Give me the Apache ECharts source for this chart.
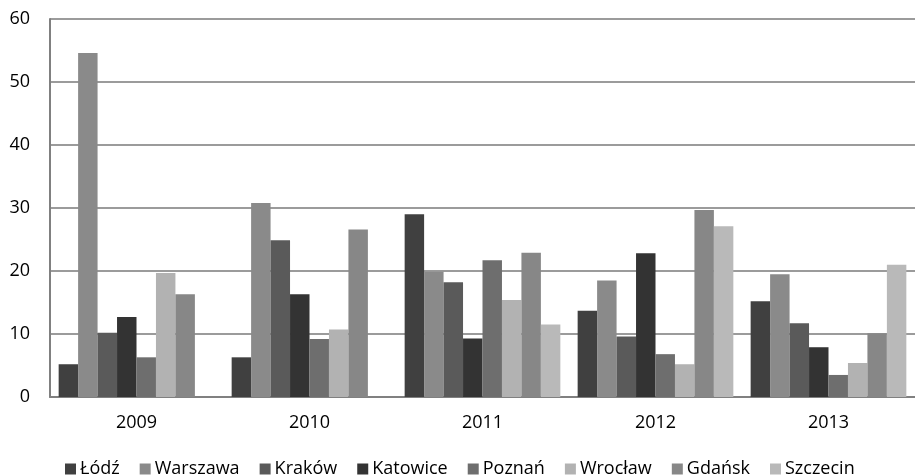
<!DOCTYPE html>
<html>
<head>
<meta charset="utf-8">
<script src="https://cdn.jsdelivr.net/npm/echarts@6/dist/echarts.min.js"></script>
<style>html,body{margin:0;padding:0;background:#fff}#c{width:915px;height:475px}</style>
</head>
<body>
<div id="c"></div>
<script>
const years = ['2009','2010','2011','2012','2013'];
const seriesNames = ['Łódź','Warszawa','Kraków','Katowice','Poznań','Wrocław','Gdańsk','Szczecin'];
const lodz     = [5.2, 6.3, 29.0, 13.7, 15.2];
const warszawa = [54.6, 30.8, 19.9, 18.5, 19.5];
const krakow   = [10.2, 24.9, 18.2, 9.6, 11.7];
const katowice = [12.7, 16.3, 9.3, 22.8, 7.9];
const poznan   = [6.3, 9.2, 21.7, 6.8, 3.5];
const wroclaw  = [19.7, 10.7, 15.4, 5.2, 5.4];
const gdansk   = [16.3, 26.6, 22.9, 29.7, 10.1];
const szczecin = [0, 0, 11.5, 27.1, 21.0];
const yTicks = [0, 10, 20, 30, 40, 50, 60];

const colors = ['#404040','#8a8a8a','#5a5a5a','#333333','#6e6e6e','#b2b2b2','#878787','#b9b9b9'];
const data = [lodz, warszawa, krakow, katowice, poznan, wroclaw, gdansk, szczecin];
const FONT = '"Open Sans"';

const chart = echarts.init(document.getElementById('c'));
chart.setOption({
  animation: false,
  backgroundColor: '#fff',
  color: colors,
  textStyle: { fontFamily: FONT },
  grid: { left: 50, right: -9, top: 19, bottom: 78, containLabel: false },
  legend: {
    left: 65, top: 460, padding: 0,
    itemWidth: 11, itemHeight: 11, itemGap: 20,
    icon: 'rect',
    textStyle: { fontFamily: FONT, fontSize: 18, color: '#000', padding: [0,0,0,-1] },
    data: seriesNames
  },
  xAxis: {
    type: 'category',
    data: years,
    axisLine: { lineStyle: { color: '#808080', width: 2 } },
    axisTick: { show: false },
    axisLabel: { fontFamily: FONT, fontSize: 18, color: '#000', margin: 17 }
  },
  yAxis: {
    type: 'value',
    min: yTicks[0], max: yTicks[yTicks.length-1], interval: 10,
    axisLine: { show: true, lineStyle: { color: '#808080', width: 2 } },
    axisTick: { show: false },
    splitLine: { lineStyle: { color: '#7a7a7a', width: 1.6 } },
    axisLabel: { fontFamily: FONT, fontSize: 18, color: '#000', margin: 20 }
  },
  series: seriesNames.map((n, i) => ({
    name: n,
    type: 'bar',
    data: data[i],
    barGap: '0%',
    barCategoryGap: '10%',
    itemStyle: { color: colors[i] }
  }))
});
</script>
</body>
</html>
